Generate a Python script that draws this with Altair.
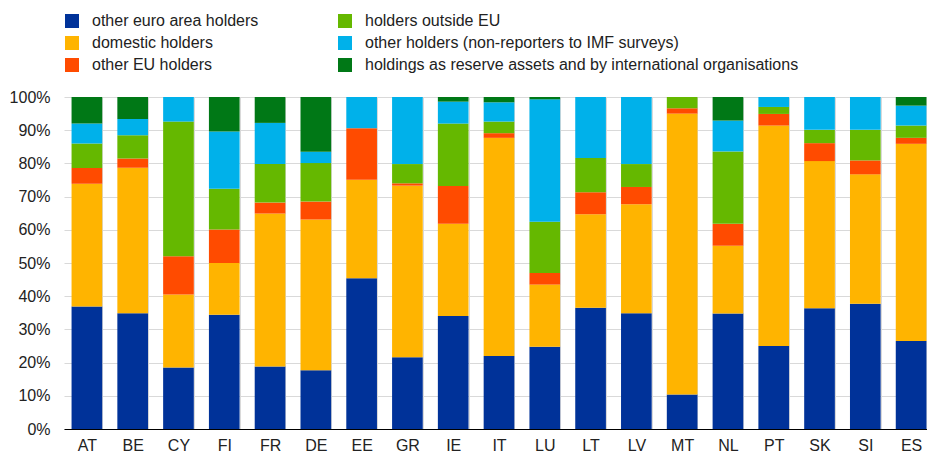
import altair as alt
import pandas as pd

countries = ["AT", "BE", "CY", "FI", "FR", "DE", "EE", "GR", "IE", "IT",
             "LU", "LT", "LV", "MT", "NL", "PT", "SK", "SI", "ES"]

# shares in % (bottom to top of each stack)
other_euro_area = [36.9, 34.9, 18.5, 34.4, 18.8, 17.7, 45.4, 21.6, 34.0, 22.0,
                   24.8, 36.5, 34.9, 10.4, 34.8, 25.0, 36.4, 37.7, 26.5]
domestic = [37.0, 43.8, 22.0, 15.6, 46.1, 45.4, 29.7, 51.7, 27.8, 65.7,
            18.7, 28.2, 32.8, 84.6, 20.4, 66.4, 44.3, 39.0, 59.4]
other_eu = [4.7, 2.8, 11.5, 10.1, 3.3, 5.4, 15.5, 0.7, 11.4, 1.4,
            3.5, 6.6, 5.2, 1.6, 6.6, 3.5, 5.4, 4.2, 1.8]
outside_eu = [7.4, 7.0, 40.6, 12.3, 11.6, 11.6, 0.0, 5.8, 18.8, 3.5,
              15.4, 10.3, 6.9, 3.4, 21.8, 2.1, 4.0, 9.2, 3.7]
other_holders = [6.0, 4.9, 7.4, 17.2, 12.4, 3.4, 9.4, 20.2, 6.6, 5.8,
                 36.9, 18.4, 20.2, 0.0, 9.3, 3.0, 9.9, 9.9, 6.0]
reserve_intl = [8.0, 6.6, 0.0, 10.4, 7.8, 16.5, 0.0, 0.0, 1.4, 1.6,
                0.7, 0.0, 0.0, 0.0, 7.1, 0.0, 0.0, 0.0, 2.6]

series_names = [
    "other euro area holders",
    "domestic holders",
    "other EU holders",
    "holders outside EU",
    "other holders (non-reporters to IMF surveys)",
    "holdings as reserve assets and by international organisations",
]
series_values = [other_euro_area, domestic, other_eu, outside_eu, other_holders, reserve_intl]
series_colors = ["#003299", "#FFB400", "#FF4B00", "#65B800", "#00B1EA", "#007816"]

rows = []
for si, (name, vals) in enumerate(zip(series_names, series_values)):
    for c, v in zip(countries, vals):
        rows.append({"country": c, "series": name, "value": v, "stack": si})
df = pd.DataFrame(rows)

FONT = "Arial, Liberation Sans, sans-serif"

chart = alt.Chart(df).mark_bar().encode(
    x=alt.X("country:N", sort=countries,
            scale=alt.Scale(paddingInner=0.33, paddingOuter=0.165, range=[0, 870]),
            axis=alt.Axis(title=None, labelAngle=0, labelFontSize=16, ticks=False,
                          domainColor="#000000", domainWidth=1, grid=True,
                          gridColor="#d9d9d9", tickBand="extent", labelPadding=8,
                          labelColor="#222222", labelFont=FONT)),
    y=alt.Y("value:Q", stack="zero",
            scale=alt.Scale(domain=[0, 100], nice=False),
            axis=alt.Axis(title=None, values=list(range(0, 101, 10)),
                          labelExpr="datum.value + '%'", ticks=False, domain=False,
                          labelPadding=14, labelFontSize=16, labelColor="#222222",
                          labelFont=FONT, gridColor="#d9d9d9")),
    color=alt.Color("series:N",
                    scale=alt.Scale(domain=series_names, range=series_colors),
                    legend=alt.Legend(orient="none", legendX=0, legendY=-84, columns=2,
                                      columnPadding=78, rowPadding=6, symbolType="square",
                                      symbolSize=196, symbolStrokeWidth=0,
                                      labelFontSize=16, labelOffset=12, labelLimit=0,
                                      labelFont=FONT, labelColor="#222222", title=None)),
    order=alt.Order("stack:Q", sort="ascending"),
).properties(
    width=863, height=332,
    autosize=alt.AutoSizeParams(type="none"),
    padding={"left": 56, "top": 89, "right": 0, "bottom": 26},
).configure_view(stroke=None)

chart.save("out.html", embed_options={"renderer": "svg", "actions": False})
